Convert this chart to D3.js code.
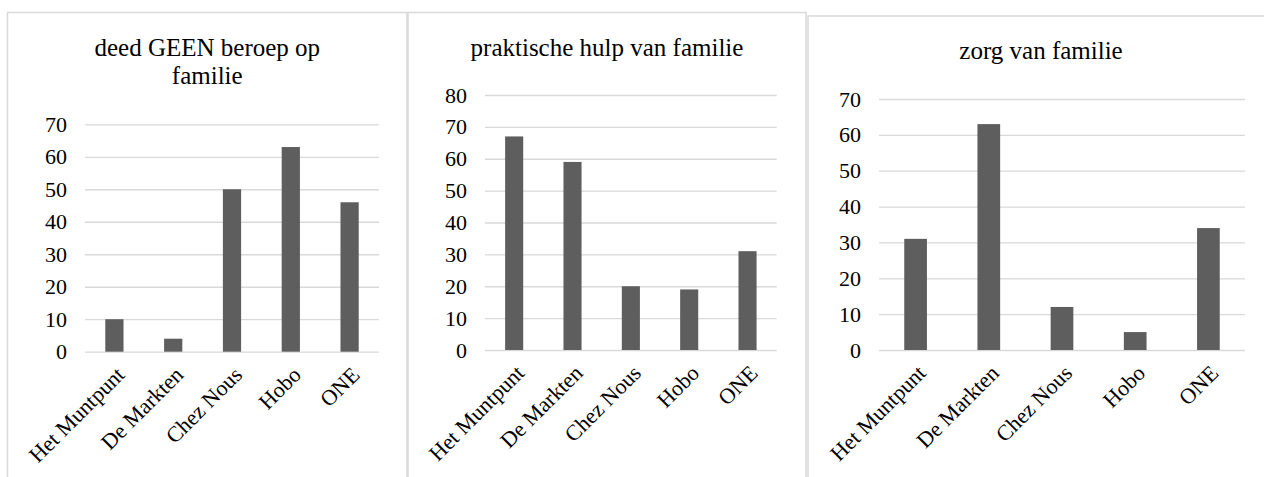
<!DOCTYPE html>
<html>
<head>
<meta charset="utf-8">
<script src="https://cdn.jsdelivr.net/npm/d3@7"></script>
<style>
  body { margin: 0; background: #fff; }
  svg text { font-family: "Liberation Serif", "Times New Roman", serif; fill: #000; }
  .grid line { stroke: #d9d9d9; stroke-width: 1.3; }
  .grid .domain { display: none; }
</style>
</head>
<body>
<script>
let categories = ["Het Muntpunt", "De Markten", "Chez Nous", "Hobo", "ONE"];

let geenBeroep = [10, 4, 50, 63, 46];
let praktischeHulp = [67, 59, 20, 19, 31];
let zorgFamilie = [31, 63, 12, 5, 34];

let ticks70 = [0, 10, 20, 30, 40, 50, 60, 70];
let ticks80 = [0, 10, 20, 30, 40, 50, 60, 70, 80];

let titleGeen = ["deed GEEN beroep op", "familie"];
let titleHulp = ["praktische hulp van familie"];
let titleZorg = ["zorg van familie"];

let width = 1264,
    height = 477,
    serif = "'Liberation Serif', 'Times New Roman', serif";

let svg = d3.select("body")
            .append("svg")
            .attr("width", width)
            .attr("height", height);

// one chart box per panel
function drawPanel(p) {
    let g = svg.append("g");

    // chart border
    g.append("rect")
     .attr("x", p.left)
     .attr("y", p.top)
     .attr("width", p.right - p.left)
     .attr("height", height + 20 - p.top)
     .attr("fill", "none")
     .attr("stroke", "#d9d9d9")
     .attr("stroke-width", 1.5);

    // title
    let cx = (p.left + p.right) / 2;
    g.selectAll(".title")
     .data(p.title)
     .enter()
     .append("text")
     .attr("class", "title")
     .attr("x", cx)
     .attr("y", function(d, i) { return p.top + 43 + i * 28; })
     .attr("text-anchor", "middle")
     .attr("font-family", serif)
     .style("font-size", "25px")
     .text(function(d) { return d; });

    let xScale = d3.scaleBand()
                   .domain(categories)
                   .range([p.x0, p.x1])
                   .paddingInner(0.69)
                   .paddingOuter(0.345);

    let yScale = d3.scaleLinear()
                   .domain([0, d3.max(p.ticks)])
                   .range([p.y0, p.y1]);

    // gridlines
    g.append("g")
     .attr("class", "grid")
     .attr("transform", "translate(" + p.x0 + ",0)")
     .call(d3.axisLeft(yScale).tickValues(p.ticks).tickSize(-(p.x1 - p.x0)).tickFormat(""));

    // bars
    g.selectAll(".bar")
     .data(p.values)
     .enter()
     .append("rect")
     .attr("class", "bar")
     .attr("x", function(d, i) { return xScale(categories[i]); })
     .attr("y", function(d) { return yScale(d); })
     .attr("width", xScale.bandwidth())
     .attr("height", function(d) { return yScale(0) - yScale(d); })
     .attr("fill", "#5e5e5e");

    // y axis labels
    let yAxis = g.append("g")
     .attr("transform", "translate(" + p.x0 + ",0)")
     .call(d3.axisLeft(yScale).tickValues(p.ticks).tickSize(0).tickPadding(18))
     .attr("font-family", serif)
     .attr("font-size", 22);
    yAxis.select(".domain").remove();
    yAxis.selectAll("text").attr("fill", "#000");

    // x axis labels
    let xAxis = g.append("g")
     .attr("transform", "translate(0," + p.y0 + ")")
     .call(d3.axisBottom(xScale).tickSize(0))
     .attr("font-family", serif)
     .attr("font-size", 22);
    xAxis.select(".domain").remove();
    xAxis.selectAll("text")
         .attr("fill", "#000")
         .attr("text-anchor", "end")
         .attr("dy", "0.35em")
         .attr("x", 0)
         .attr("y", 0)
         .attr("transform", "translate(6,19) rotate(-45)");
}

drawPanel({left: 7.5, top: 12.5, right: 407, title: titleGeen, values: geenBeroep,
           ticks: ticks70, x0: 85, x1: 379, y0: 351.7, y1: 124.3});
drawPanel({left: 408, top: 12.5, right: 806, title: titleHulp, values: praktischeHulp,
           ticks: ticks80, x0: 485, x1: 776.7, y0: 350, y1: 95});
drawPanel({left: 808, top: 16, right: 1274, title: titleZorg, values: zorgFamilie,
           ticks: ticks70, x0: 879, x1: 1245, y0: 350, y1: 99});
</script>
</body>
</html>
